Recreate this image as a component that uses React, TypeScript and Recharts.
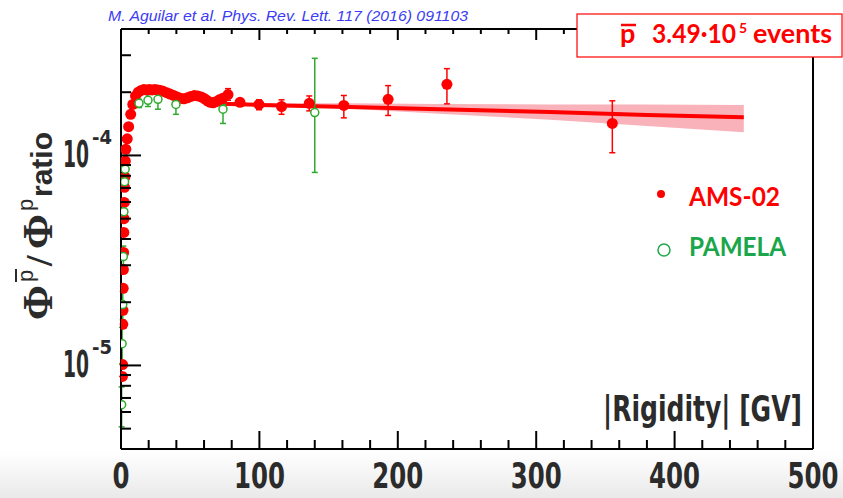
import React from "react"
import { ComposedChart, XAxis, YAxis, Scatter, Line, Area, ErrorBar } from "recharts"

// AMS-02 antiproton / proton flux ratio (rigidity in GV)
const amsRigidity = [
  1.0, 1.15, 1.3, 1.45, 1.6, 1.75, 1.9, 2.05, 2.2, 2.4, 2.6, 2.85, 3.15, 3.5, 4.5, 5.5, 7, 8.5, 10.5,
  12.5, 14.5, 16.5, 18.5, 20.5, 22.5, 24.5, 26.5, 28.5, 30.5, 33, 35.5, 38, 40.5, 43, 45.5, 48, 50.5,
  53, 55.5, 58, 60.5, 62.5, 64.5, 66.5, 68.5, 71, 73.5, 77.3, 86, 99.7, 116, 136, 161, 193, 235.5, 355,
]
const amsRatio = [
  8.86e-6, 1.01e-5, 1.57e-5, 1.83e-5, 2.33e-5, 2.86e-5, 3.45e-5, 4.3e-5, 5.0e-5, 5.97e-5, 7.05e-5,
  7.9e-5, 9.4e-5, 1.07e-4, 1.2e-4, 1.37e-4, 1.57e-4, 1.75e-4, 1.92e-4, 2.0e-4, 2.04e-4, 2.06e-4,
  2.05e-4, 2.06e-4, 2.05e-4, 2.06e-4, 2.05e-4, 2.04e-4, 2.02e-4, 1.99e-4, 1.96e-4, 1.93e-4, 1.9e-4,
  1.87e-4, 1.86e-4, 1.88e-4, 1.91e-4, 1.93e-4, 1.92e-4, 1.9e-4, 1.86e-4, 1.82e-4, 1.79e-4, 1.78e-4,
  1.8e-4, 1.84e-4, 1.87e-4, 1.95e-4, 1.79e-4, 1.75e-4, 1.71e-4, 1.77e-4, 1.73e-4, 1.85e-4, 2.18e-4,
  1.42e-4,
]
// errors (lower, upper), only the last bins are visible outside the markers
const amsErrLow = [
  0, 0, 0, 0, 0, 0, 0, 0, 0, 0, 0, 0, 0, 0, 0, 0, 0, 0, 0, 0, 0, 0, 0, 0, 0, 0, 0, 0, 0, 0, 0, 0, 0, 0,
  0, 0, 0, 0, 0, 0, 0, 0, 0, 0, 0, 0, 0.06e-4, 0.12e-4, 0.07e-4, 0.1e-4, 0.14e-4, 0.14e-4, 0.22e-4,
  0.3e-4, 0.42e-4, 0.39e-4,
]
const amsErrHigh = [
  0, 0, 0, 0, 0, 0, 0, 0, 0, 0, 0, 0, 0, 0, 0, 0, 0, 0, 0, 0, 0, 0, 0, 0, 0, 0, 0, 0, 0, 0, 0, 0, 0, 0,
  0, 0, 0, 0, 0, 0, 0, 0, 0, 0, 0, 0, 0.06e-4, 0.13e-4, 0.07e-4, 0.09e-4, 0.13e-4, 0.15e-4, 0.2e-4,
  0.3e-4, 0.41e-4, 0.4e-4,
]

// PAMELA
const pamelaRigidity = [0.45, 0.8, 1.25, 1.7, 2.1, 2.6, 3.0, 13, 19.5, 26.7, 39.7, 73.7, 140]
const pamelaRatio = [6.5e-6, 1.27e-5, 1.95e-5, 3.3e-5, 5.4e-5, 7.5e-5, 8.6e-5, 1.77e-4, 1.83e-4, 1.85e-4, 1.75e-4, 1.66e-4, 1.6e-4]
const pamelaErrLow = [1.4e-6, 2.5e-6, 3e-6, 4e-6, 5e-6, 6e-6, 6e-6, 0.08e-4, 0.12e-4, 0.19e-4, 0.18e-4, 0.24e-4, 0.77e-4]
const pamelaErrHigh = [1.4e-6, 2.5e-6, 3e-6, 4e-6, 5e-6, 6e-6, 6e-6, 0.08e-4, 0.12e-4, 0.15e-4, 0.15e-4, 0.09e-4, 1.3e-4]

// fit line with its uncertainty band
const fitRigidity = [60, 100, 165, 230, 310, 380, 450]
const fitRatio = [1.77e-4, 1.74e-4, 1.7e-4, 1.66e-4, 1.61e-4, 1.56e-4, 1.52e-4]
const bandLow = [1.75e-4, 1.72e-4, 1.67e-4, 1.58e-4, 1.48e-4, 1.38e-4, 1.29e-4]
const bandHigh = [1.79e-4, 1.77e-4, 1.77e-4, 1.76e-4, 1.75e-4, 1.75e-4, 1.74e-4]

const xTicks = [0, 20, 40, 60, 80, 100, 120, 140, 160, 180, 200, 220, 240, 260, 280, 300, 320, 340, 360, 380, 400, 420, 440, 460, 480, 500]
const yTicks = [5e-6, 6e-6, 7e-6, 8e-6, 9e-6, 1e-5, 2e-5, 3e-5, 4e-5, 5e-5, 6e-5, 7e-5, 8e-5, 9e-5, 1e-4, 2e-4, 3e-4]

const amsData = amsRigidity.map((x, i) => ({ x, y: amsRatio[i], err: [amsErrLow[i], amsErrHigh[i]] }))
const pamelaData = pamelaRigidity.map((x, i) => ({ x, y: pamelaRatio[i], err: [pamelaErrLow[i], pamelaErrHigh[i]] }))
const fitData = fitRigidity.map((x, i) => ({ x, fit: fitRatio[i], band: [bandLow[i], bandHigh[i]] }))

const RED = "#ff0000"
const GREEN = "#2eaa2e"
const AXIS_FONT = "'Liberation Sans Narrow', 'DejaVu Sans Condensed', 'Liberation Sans', sans-serif"
const LABEL_FONT = "Lato, 'Open Sans', sans-serif"

function BottomTick(props: any) {
  const { x, y, payload } = props
  const v = payload.value
  const major = v % 100 === 0
  const s = String(v)
  return (
    <g>
      <line x1={x} x2={x} y1={y} y2={y - (major ? 18 : 9)} stroke="#000" strokeWidth={2} />
      {major && (
        <text x={x} y={y + 39} textAnchor="middle" fontFamily={AXIS_FONT} fontWeight="bold" fontSize={35} fill="#2b2b2b" textLength={s.length * 17} lengthAdjust="spacingAndGlyphs">
          {s}
        </text>
      )}
    </g>
  )
}

function TopTick(props: any) {
  const { x, y, payload } = props
  const major = payload.value % 100 === 0
  return <line x1={x} x2={x} y1={y} y2={y + (major ? 11 : 5)} stroke="#000" strokeWidth={2} />
}

function LeftTick(props: any) {
  const { x, y, payload } = props
  const lg = Math.log10(payload.value)
  const major = Math.abs(lg - Math.round(lg)) < 1e-6
  return (
    <g>
      <line x1={x} x2={x + (major ? 20 : 10)} y1={y} y2={y} stroke="#000" strokeWidth={2} />
      {major && (
        <g fontFamily={AXIS_FONT} fontWeight="bold" fill="#2b2b2b">
          <text x={x - 58} y={y + 12} fontSize={38} textLength={26} lengthAdjust="spacingAndGlyphs">
            10
          </text>
          <text x={x - 29} y={y - 11} fontSize={20}>
            {String(Math.round(lg))}
          </text>
        </g>
      )}
    </g>
  )
}

const AmsDot = (p: any) => <circle cx={p.cx} cy={p.cy} r={5.5} fill={RED} />
const PamelaDot = (p: any) => <circle cx={p.cx} cy={p.cy} r={4} fill="#fff" stroke={GREEN} strokeWidth={1.5} />

export default function App() {
  return (
    <div
      style={{
        position: "absolute",
        left: 0,
        top: 0,
        width: 843,
        height: 498,
        background: "linear-gradient(to bottom, #ffffff 0px, #ffffff 452px, #e9e9e9 498px)",
      }}
    >
      <ComposedChart width={843} height={498} data={fitData} margin={{ top: 28, right: 29, bottom: 48, left: 120 }}>
        <XAxis
          xAxisId="b"
          type="number"
          dataKey="x"
          domain={[0, 500]}
          ticks={xTicks}
          interval={0}
          height={1}
          tickSize={0}
          tickMargin={0}
          tickLine={false}
          tick={<BottomTick />}
          axisLine={{ stroke: "#000", strokeWidth: 2 }}
          allowDataOverflow
        />
        <XAxis
          xAxisId="t"
          orientation="top"
          type="number"
          dataKey="x"
          domain={[0, 500]}
          ticks={xTicks}
          interval={0}
          height={1}
          tickSize={0}
          tickMargin={0}
          tickLine={false}
          tick={<TopTick />}
          axisLine={{ stroke: "#000", strokeWidth: 2 }}
          allowDataOverflow
        />
        <YAxis
          yAxisId="l"
          type="number"
          scale="log"
          domain={[4e-6, 4e-4]}
          ticks={yTicks}
          interval={0}
          width={1}
          tickSize={0}
          tickMargin={0}
          tickLine={false}
          tick={<LeftTick />}
          axisLine={{ stroke: "#000", strokeWidth: 2 }}
          allowDataOverflow
        />
        <YAxis
          yAxisId="r"
          orientation="right"
          type="number"
          scale="log"
          domain={[4e-6, 4e-4]}
          width={1}
          tick={false}
          tickLine={false}
          axisLine={{ stroke: "#000", strokeWidth: 2 }}
          allowDataOverflow
        />
        <Area xAxisId="b" yAxisId="l" dataKey="band" type="linear" stroke="none" fill="#f9b2b9" fillOpacity={1} isAnimationActive={false} />
        <Line xAxisId="b" yAxisId="l" dataKey="fit" type="linear" stroke={RED} strokeWidth={4} dot={false} isAnimationActive={false} />
        <Scatter xAxisId="b" yAxisId="l" data={amsData} dataKey="y" shape={AmsDot} isAnimationActive={false}>
          <ErrorBar dataKey="err" direction="y" width={3} stroke={RED} strokeWidth={1.5} />
        </Scatter>
        <Scatter xAxisId="b" yAxisId="l" data={pamelaData} dataKey="y" shape={PamelaDot} isAnimationActive={false}>
          <ErrorBar dataKey="err" direction="y" width={3} stroke={GREEN} strokeWidth={1.5} />
        </Scatter>
      </ComposedChart>

      <svg width={843} height={498} style={{ position: "absolute", left: 0, top: 0, pointerEvents: "none" }}>
        {/* citation */}
        <text x={108} y={21} fontFamily="'Liberation Sans', sans-serif" fontStyle="italic" fontSize={14.5} fill="#3b3bf5" textLength={360} lengthAdjust="spacingAndGlyphs">
          M. Aguilar et al. Phys. Rev. Lett. 117 (2016) 091103
        </text>

        {/* event count box */}
        <rect x={577} y={14} width={265} height={43} fill="#fff" stroke={RED} strokeWidth={1.2} />
        <g fontFamily={LABEL_FONT} fontWeight="bold" fill={RED}>
          <text x={620} y={43} fontSize={27}>p</text>
          <line x1={621} x2={636} y1={25} y2={25} stroke={RED} strokeWidth={2.5} />
          <text x={652} y={43} fontSize={27} textLength={84} lengthAdjust="spacingAndGlyphs">3.49·10</text>
          <text x={739} y={33} fontSize={14}>5</text>
          <text x={753} y={43} fontSize={27} textLength={79} lengthAdjust="spacingAndGlyphs">events</text>
        </g>

        {/* legend */}
        <circle cx={661} cy={194} r={4} fill={RED} />
        <text x={689} y={206} fontFamily={LABEL_FONT} fontWeight="bold" fontSize={26} fill={RED} textLength={91} lengthAdjust="spacingAndGlyphs">
          AMS-02
        </text>
        <circle cx={664} cy={250} r={6} fill="none" stroke="#22a84a" strokeWidth={1.5} />
        <text x={689} y={256} fontFamily={LABEL_FONT} fontWeight="bold" fontSize={26} fill="#1aa64a" textLength={97} lengthAdjust="spacingAndGlyphs">
          PAMELA
        </text>

        {/* x title */}
        <text x={603} y={421} fontFamily={AXIS_FONT} fontWeight="bold" fontSize={36} fill="#2b2b2b" textLength={199} lengthAdjust="spacingAndGlyphs">
          |Rigidity| [GV]
        </text>

        {/* y title */}
        <g transform="translate(52, 320) rotate(-90)" fill="#2b2b2b">
          <text x={0} y={0} fontFamily="'Liberation Serif', serif" fontWeight="bold" fontSize={42}>Φ</text>
          <text x={38} y={-19} fontFamily="'Liberation Sans', sans-serif" fontSize={22}>p</text>
          <line x1={38} x2={51} y1={-36} y2={-36} stroke="#2b2b2b" strokeWidth={2} />
          <text x={54} y={0} fontFamily="'Liberation Serif', serif" fontWeight="bold" fontSize={38}>/</text>
          <text x={71} y={0} fontFamily="'Liberation Serif', serif" fontWeight="bold" fontSize={42}>Φ</text>
          <text x={109} y={-19} fontFamily="'Liberation Sans', sans-serif" fontSize={22}>p</text>
          <text x={123} y={0} fontFamily="'Liberation Sans', sans-serif" fontWeight="bold" fontSize={30} textLength={65} lengthAdjust="spacingAndGlyphs">ratio</text>
        </g>
      </svg>
    </div>
  )
}
